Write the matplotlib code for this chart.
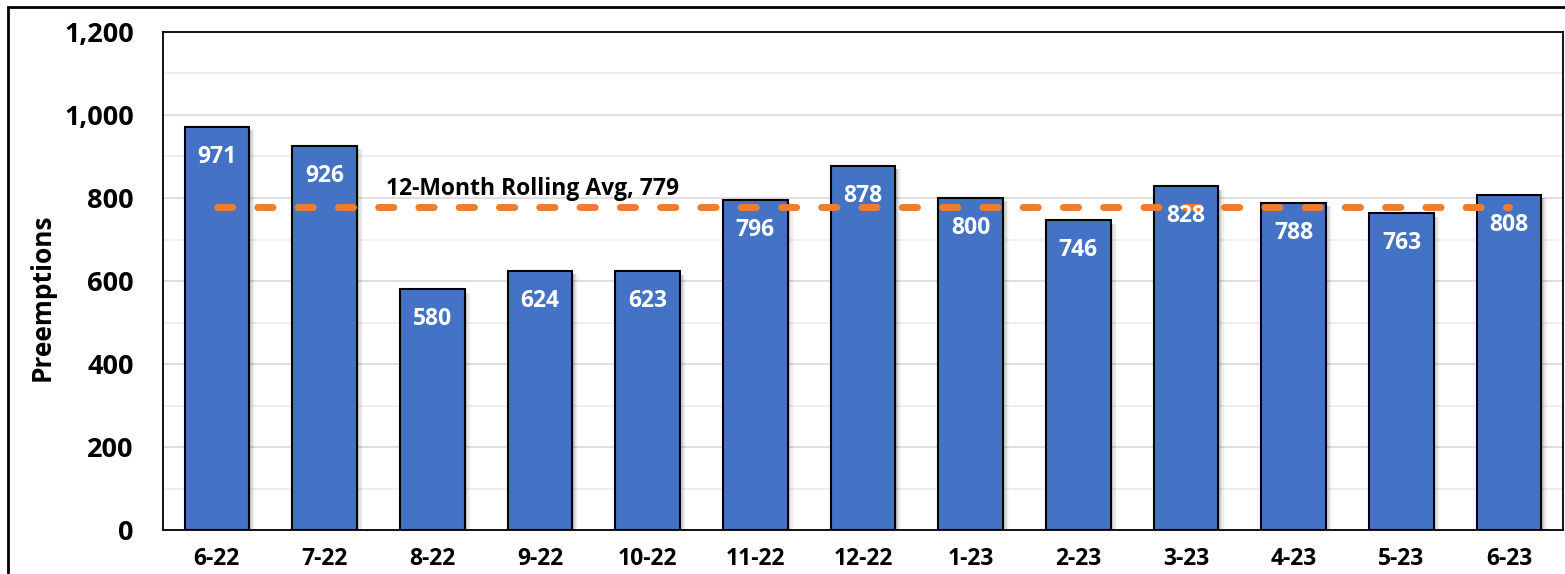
import matplotlib.pyplot as plt
from matplotlib.patches import Rectangle
from matplotlib.ticker import MultipleLocator, FuncFormatter

months = ["6-22", "7-22", "8-22", "9-22", "10-22", "11-22", "12-22",
          "1-23", "2-23", "3-23", "4-23", "5-23", "6-23"]
preemptions = [971, 926, 580, 624, 623, 796, 878, 800, 746, 828, 788, 763, 808]
rolling_avg = 779

plt.rcParams['font.family'] = ['Open Sans', 'DejaVu Sans']
plt.rcParams['font.weight'] = 'bold'

fig = plt.figure(figsize=(15.65, 5.74), dpi=100)
ax = fig.add_axes([163 / 1565, 1 - 530 / 574, 1400 / 1565, 498 / 574])

x = list(range(len(months)))
width = 0.6

# soft shadow to the right of each bar
for i, v in zip(x, preemptions):
    for k, a in enumerate([0.10, 0.08, 0.06, 0.04, 0.02]):
        off = 0.012 + k * 0.012
        ax.add_patch(Rectangle((i - width / 2 + off, 0), width, v - 8,
                               color='black', alpha=a, lw=0, zorder=1))

ax.bar(x, preemptions, width=width, color='#4472C4', edgecolor='black',
       linewidth=1.5, zorder=3)

ax.plot(x, [rolling_avg] * len(x), color='#ED7D31', lw=5,
        dashes=(2.2, 3.6), dash_capstyle='round', zorder=4)
ax.text(2.93, rolling_avg + 43, "12-Month Rolling Avg, 779", ha='center',
        va='center', fontsize=16.5, fontweight='bold', zorder=5)

for i, v in zip(x, preemptions):
    ax.text(i, v - 72, f"{v}", ha='center', va='center', color='white',
            fontsize=16.5, fontweight='bold', zorder=5)

ax.set_xlim(-0.5, len(months) - 0.5)
ax.set_ylim(0, 1200)
ax.yaxis.set_major_locator(MultipleLocator(200))
ax.yaxis.set_minor_locator(MultipleLocator(100))
ax.yaxis.set_major_formatter(FuncFormatter(lambda v, p: f"{int(v):,}"))
ax.grid(axis='y', which='major', color='#d9d9d9', lw=1.2, zorder=0)
ax.grid(axis='y', which='minor', color='#ececec', lw=1.2, zorder=0)
ax.set_axisbelow(True)

ax.set_xticks(x)
ax.set_xticklabels(months, fontsize=16.5, fontweight='bold')
ax.tick_params(axis='y', labelsize=19.5, length=0, pad=21)
ax.tick_params(axis='y', which='minor', length=0)
ax.tick_params(axis='x', length=0, pad=12)
for lbl in ax.get_yticklabels():
    lbl.set_fontweight('bold')
ax.set_ylabel("Preemptions", fontsize=19, fontweight='bold')
ax.yaxis.set_label_coords(-0.077, 0.468)

for s in ax.spines.values():
    s.set_color('black')
    s.set_linewidth(1.3)

# outer chart border
fig.patches.append(Rectangle((8 / 1565, -0.1), 1.2, 1 - 7 / 574 + 0.1,
                             transform=fig.transFigure, fill=False,
                             edgecolor='black', lw=2))

fig.savefig("out.png", dpi=100)
